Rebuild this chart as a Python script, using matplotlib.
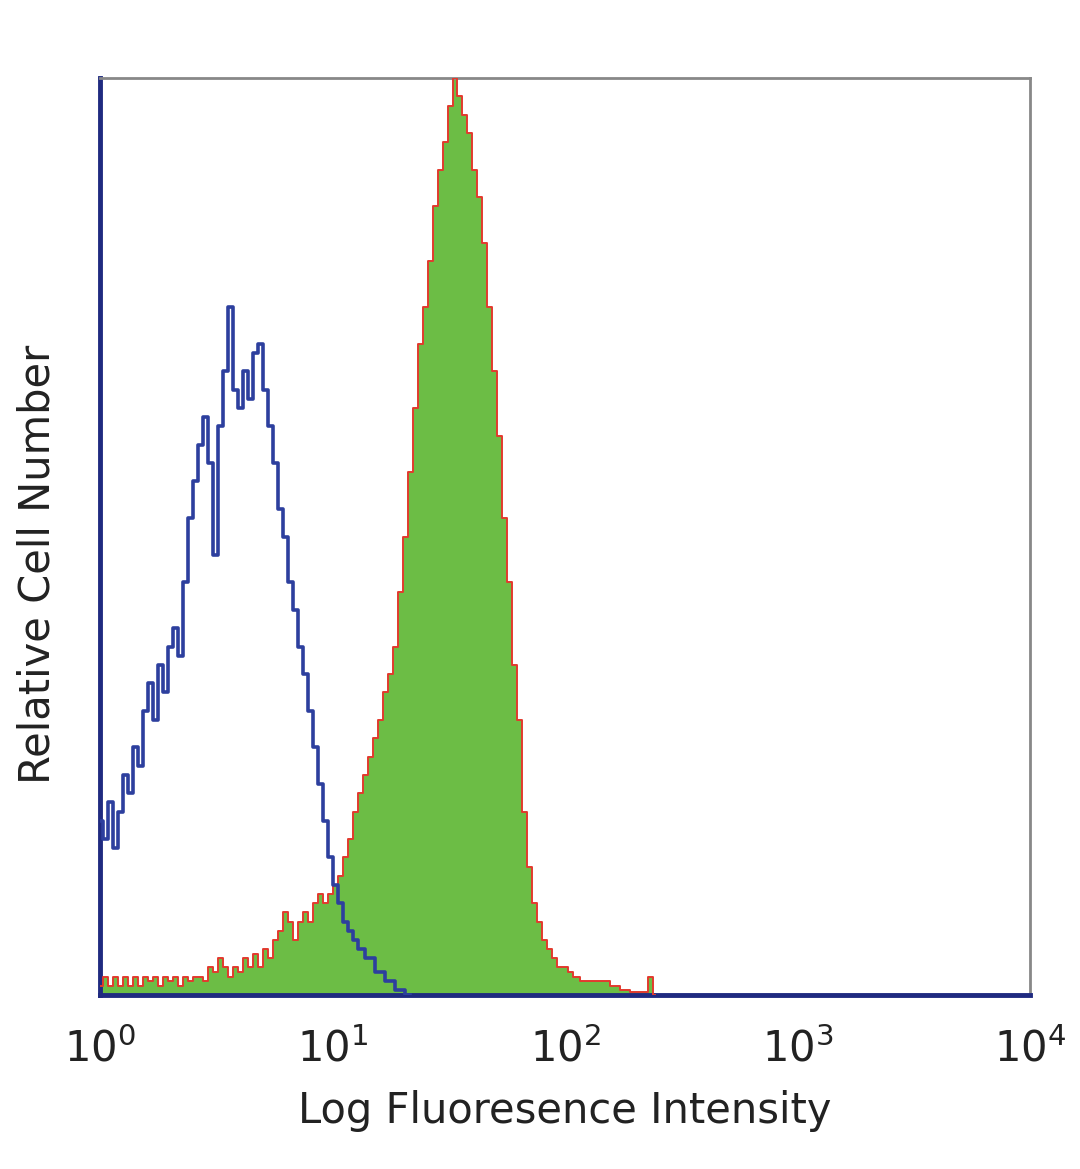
import numpy as np
import matplotlib
matplotlib.use("Agg")
import matplotlib.pyplot as plt

# log10 channel positions (decades) and relative counts
blue_log = [0.000, 0.022, 0.043, 0.065, 0.086, 0.108, 0.129, 0.151, 0.172, 0.194,
            0.215, 0.237, 0.258, 0.280, 0.301, 0.323, 0.344, 0.366, 0.387, 0.409,
            0.430, 0.452, 0.473, 0.495, 0.516, 0.538, 0.559, 0.581, 0.602, 0.624,
            0.645, 0.667, 0.688, 0.710, 0.731, 0.753, 0.774, 0.796, 0.817, 0.839,
            0.860, 0.882, 0.903, 0.925, 0.946, 0.968, 0.989, 1.011, 1.032, 1.054,
            1.075, 1.097, 1.118, 1.161, 1.204, 1.247, 1.290, 1.333]
blue_counts = [19, 17, 21, 16, 20, 24, 22, 27, 25, 31,
               34, 30, 36, 33, 38, 40, 37, 45, 52, 56,
               60, 63, 58, 48, 62, 68, 75, 66, 64, 68,
               65, 70, 71, 66, 62, 58, 53, 50, 45, 42,
               38, 35, 31, 27, 23, 19, 15, 12, 10, 8,
               7, 6, 5, 4, 2.5, 1.5, 0.5, 0]

green_log = [0.000, 0.022, 0.043, 0.065, 0.086, 0.108, 0.129, 0.151, 0.172, 0.194,
             0.215, 0.237, 0.258, 0.280, 0.301, 0.323, 0.344, 0.366, 0.387, 0.409,
             0.430, 0.452, 0.473, 0.495, 0.516, 0.538, 0.559, 0.581, 0.602, 0.624,
             0.645, 0.667, 0.688, 0.710, 0.731, 0.753, 0.774, 0.796, 0.817, 0.839,
             0.860, 0.882, 0.903, 0.925, 0.946, 0.968, 0.989, 1.011, 1.032, 1.054,
             1.075, 1.097, 1.118, 1.140, 1.161, 1.183, 1.204, 1.226, 1.247, 1.269,
             1.290, 1.312, 1.333, 1.355, 1.376, 1.398, 1.419, 1.441, 1.462, 1.484,
             1.505, 1.527, 1.548, 1.570, 1.591, 1.613, 1.634, 1.656, 1.677, 1.699,
             1.720, 1.742, 1.763, 1.785, 1.806, 1.828, 1.849, 1.871, 1.892, 1.914,
             1.935, 1.957, 1.978, 2.000, 2.022, 2.043, 2.086, 2.129, 2.172, 2.215,
             2.258, 2.301, 2.344, 2.366, 2.387]
green_counts = [1, 2, 1, 2, 1, 2, 1, 2, 1, 2,
                1.5, 2, 1, 2, 1.5, 2, 1, 2, 1.5, 2,
                2, 1.5, 3, 2.5, 4, 3, 2, 3, 2.5, 4,
                3, 4.5, 3, 5, 4, 6, 7, 9, 8, 6,
                8, 9, 8, 10, 11, 10, 11, 12, 13, 15,
                17, 20, 22, 24, 26, 28, 30, 33, 35, 38,
                44, 50, 57, 64, 71, 75, 80, 86, 90, 93,
                97, 100, 98, 96, 94, 90, 87, 82, 75, 68,
                61, 52, 45, 36, 30, 20, 14, 10, 8, 6,
                5, 4, 3, 3, 2.5, 2, 1.5, 1.5, 1.5, 1,
                0.5, 0.3, 0.3, 2, 0]

xticks = [1, 10, 100, 1000, 10000]
xticklabels = [r"$10^{0}$", r"$10^{1}$", r"$10^{2}$", r"$10^{3}$", r"$10^{4}$"]

fig = plt.figure(figsize=(10.8, 11.69), dpi=100)
ax = fig.add_axes([100/1080, 1-995/1169, 930/1080, (995-78)/1169])

gx = 10 ** np.array(green_log)
bx = 10 ** np.array(blue_log)

ax.fill_between(gx, green_counts, step="mid", color="#6cbd45", linewidth=0, zorder=2)
ax.step(gx, green_counts, where="mid", color="#e23a2e", linewidth=1.4, zorder=3)
ax.step(bx, blue_counts, where="mid", color="#2d3f9e", linewidth=2.6, zorder=4)

ax.set_xscale("log")
ax.set_xlim(1, 10000)
ax.set_ylim(0, 100)
ax.set_yticks([])
ax.set_xticks(xticks)
ax.set_xticklabels(xticklabels, fontsize=30, color="#222222")
ax.minorticks_off()
ax.tick_params(axis="x", length=0, pad=24)

for s in ["top", "right"]:
    ax.spines[s].set_color("#888888")
    ax.spines[s].set_linewidth(2)
for s in ["left", "bottom"]:
    ax.spines[s].set_color("#1f2a80")
    ax.spines[s].set_linewidth(3.5)

ax.set_xlabel("Log Fluoresence Intensity", fontsize=30, color="#222222", labelpad=14)
ax.set_ylabel("Relative Cell Number", fontsize=30, color="#222222")
ax.yaxis.set_label_coords(-0.045, 0.47)

fig.savefig("out.png", dpi=100)
